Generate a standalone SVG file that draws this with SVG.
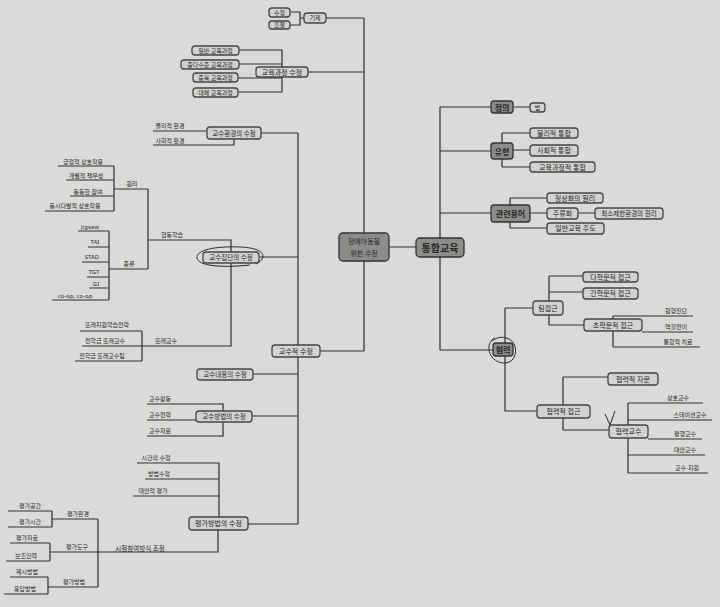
<svg xmlns="http://www.w3.org/2000/svg" width="720" height="607" viewBox="0 0 720 607">
<defs>
<style>
.bx{fill:#d2d2d0;stroke:#444;stroke-width:1.3}
.dk{fill:#8c8c8a;stroke:#333;stroke-width:1.3}
.t{font-family:"Noto Sans","Noto Sans CJK KR",sans-serif;font-size:6.5px;fill:#262626;text-anchor:middle;dominant-baseline:central}
.s{font-size:6px}
.m{font-size:7px}
.b{font-size:8px;font-weight:bold}
.ln{stroke:#2e2e2e;stroke-width:1.2;fill:none}
.pen{stroke:#2a2a2a;stroke-width:1;fill:none}
</style>
</defs>
<rect width="720" height="607" fill="#dadad8"/>
<g id="connectors" class="ln">
<path d="M364 18V351M326 18H364M308 72H364M320 351H364M389 247H416"/>
<path d="M290 12H300V25H290M300 18H304"/>
<path d="M239 50H282V92H238M239 64H282M238 78H282"/>
<path d="M298 133V524M261 133H298M259 257H298M253 374H298M252 416H298M248 524H298"/>
<path d="M153 131H207M153 145H234V139"/>
<path d="M148 240H231V346H82M148 189V269M114 189H148M109 269H148"/>
<path d="M114 166V211M58 166H114M66 180H114M70 196H114M45 211H114"/>
<path d="M109 231V300M78 231H109M88 247H109M82 262H109M87 277H109M89 288H109M52 300H109"/>
<path d="M142 331V361M80 331H142M75 361H142"/>
<path d="M147 404H223V436H147M147 420H196"/>
<path d="M137 463H219V517M145 479H219M133 496H219"/>
<path d="M50 552H218V530M98 519V587M52 519H98M48 587H98"/>
<path d="M52 511V527M8 511H52M8 527H52M50 543V561M10 543H50M6 561H50M48 577V594M10 577H48M4 594H48"/>
<path d="M440 107V350M440 107H491M513 107H530"/>
<path d="M440 151H491M502 133V167M502 133H530M502 150H530M502 167H530"/>
<path d="M440 213H491M510 198V228M510 198H547M530 213H547M510 228H547M578 213H595"/>
<path d="M440 350H493M505 308V411H537M505 308H533"/>
<path d="M549 276V325M549 276H583M549 292H583M549 325H584"/>
<path d="M613 316V347M613 316H693M642 332H693M613 347H700"/>
<path d="M563 377V430M563 377H608M563 430H609"/>
<path d="M628 403V473M628 403H703M628 420H712M648 439H702M628 455H705M628 473H708"/>
</g>
<g id="n_root_left"><rect class="dk" x="339" y="233" width="50" height="28" rx="4"/><text class="t m" x="364" y="241">장애아동을</text><text class="t m" x="364" y="253">위한 수정</text></g>
<g id="n_root_right"><rect class="dk" x="416" y="238" width="48" height="19" rx="4"/><text class="t" x="440" y="247.5" style="font-size:10px;font-weight:bold">통합교육</text></g>
<g id="n_gise"><rect class="bx" x="304" y="13" width="22" height="10" rx="3"/><text class="t s" x="315" y="18">기제</text></g>
<g id="n_sujeong"><rect class="bx" x="269" y="8" width="21" height="9" rx="3"/><text class="t s" x="279.5" y="12.5">수정</text></g>
<g id="n_jojeol"><rect class="bx" x="269" y="21" width="21" height="8" rx="3"/><text class="t s" x="279.5" y="25">조절</text></g>
<g id="n_curr"><rect class="bx" x="256" y="67" width="52" height="10" rx="3"/><text class="t m" x="282" y="72">교육과정 수정</text></g>
<g id="n_curr1"><rect class="bx" x="192" y="46" width="47" height="9" rx="3"/><text class="t s" x="215.5" y="50.5">일반 교육과정</text></g>
<g id="n_curr2"><rect class="bx" x="181" y="60" width="58" height="9" rx="3"/><text class="t s" x="210" y="64.5">중다수준 교육과정</text></g>
<g id="n_curr3"><rect class="bx" x="193" y="73" width="45" height="9" rx="3"/><text class="t s" x="215.5" y="77.5">중복 교육과정</text></g>
<g id="n_curr4"><rect class="bx" x="193" y="88" width="45" height="9" rx="3"/><text class="t s" x="215.5" y="92.5">대체 교육과정</text></g>
<g id="n_inst"><rect class="bx" x="272" y="345" width="48" height="12" rx="3"/><text class="t m" x="296" y="351">교수적 수정</text></g>
<g id="n_env"><rect class="bx" x="207" y="127" width="54" height="12" rx="3"/><text class="t" x="234" y="133">교수환경의 수정</text></g>
<g id="n_group"><rect class="bx" x="203" y="252" width="56" height="11" rx="3"/><text class="t" x="231" y="257.5">교수집단의 수정</text></g>
<g id="n_content"><rect class="bx" x="197" y="369" width="56" height="11" rx="3"/><text class="t" x="225" y="374.5">교수내용의 수정</text></g>
<g id="n_method"><rect class="bx" x="196" y="411" width="56" height="11" rx="3"/><text class="t" x="224" y="416.5">교수방법의 수정</text></g>
<g id="n_eval"><rect class="bx" x="189" y="517" width="59" height="13" rx="3"/><text class="t m" x="218.5" y="523.5">평가방법의 수정</text></g>
<g id="labels_left">
<text class="t s" x="170" y="126">물리적 환경</text><text class="t s" x="170" y="141">사회적 환경</text>
<text class="t s" x="172" y="235">협동학습</text><text class="t s" x="166" y="341">또래교수</text>
<text class="t s" x="132" y="184">원리</text><text class="t s" x="129" y="264">종류</text>
<text class="t s" x="83" y="161.5">긍정적 상호작용</text><text class="t s" x="86" y="175.5">개별적 책무성</text><text class="t s" x="88" y="191.5">동등한 참여</text><text class="t s" x="75" y="206">동시다발적 상호작용</text>
<text class="t s" x="90" y="226.5">Jigsaw</text><text class="t s" x="95" y="242">TAI</text><text class="t s" x="92" y="257">STAD</text><text class="t s" x="94" y="272">TGT</text><text class="t s" x="96" y="283.5">GI</text><text class="t s" x="75" y="296">co-op, co-op</text>
<text class="t s" x="107" y="325">또래지원학습전략</text><text class="t s" x="105" y="341">전학급 또래교수</text><text class="t s" x="102" y="356">전학급 또래교수팀</text>
<text class="t s" x="160" y="399">교수활동</text><text class="t s" x="160" y="415">교수전략</text><text class="t s" x="160" y="431">교수자료</text>
<text class="t s" x="156" y="457.5">시간의 수정</text><text class="t s" x="159" y="474">방법수정</text><text class="t s" x="153" y="490.5">대안적 평가</text>
<text class="t" x="140" y="548">시험참여방식 조정</text>
<text class="t s" x="78" y="514">평가환경</text><text class="t s" x="77" y="547">평가도구</text><text class="t s" x="74" y="582">평가방법</text>
<text class="t s" x="30" y="505.5">평가공간</text><text class="t s" x="30" y="522">평가시간</text><text class="t s" x="27" y="538">평가자료</text><text class="t s" x="26" y="556">보조인력</text><text class="t s" x="27" y="572">제시방법</text><text class="t s" x="25" y="589">응답방법</text>
</g>
<g id="n_def"><rect class="dk" x="491" y="101" width="22" height="12" rx="3"/><text class="t b" x="502" y="107">정의</text></g>
<g id="n_law"><rect class="bx" x="530" y="103" width="15" height="9" rx="3"/><text class="t s" x="537.5" y="107.5">법</text></g>
<g id="n_type"><rect class="dk" x="491" y="143" width="22" height="16" rx="3"/><text class="t b" x="502" y="151">유형</text></g>
<g id="n_type1"><rect class="bx" x="530" y="128" width="48" height="10" rx="3"/><text class="t m" x="554" y="133">물리적 통합</text></g>
<g id="n_type2"><rect class="bx" x="530" y="145" width="48" height="11" rx="3"/><text class="t m" x="554" y="150.5">사회적 통합</text></g>
<g id="n_type3"><rect class="bx" x="530" y="162" width="65" height="10" rx="3"/><text class="t m" x="562.5" y="167">교육과정적 통합</text></g>
<g id="n_terms"><rect class="dk" x="491" y="205" width="39" height="17" rx="3"/><text class="t b" x="510.5" y="213.5">관련용어</text></g>
<g id="n_term1"><rect class="bx" x="547" y="193" width="56" height="10" rx="3"/><text class="t m" x="575" y="198">정상화의 원리</text></g>
<g id="n_term2"><rect class="bx" x="547" y="208" width="31" height="11" rx="3"/><text class="t m" x="562.5" y="213.5">주류화</text></g>
<g id="n_term2a"><rect class="bx" x="595" y="208" width="68" height="11" rx="3"/><text class="t" x="629" y="213.5">최소제한환경의 원리</text></g>
<g id="n_term3"><rect class="bx" x="547" y="223" width="57" height="11" rx="3"/><text class="t m" x="575.5" y="228.5">일반교육 주도</text></g>
<g id="n_coop"><rect class="dk" x="493" y="343" width="20" height="13" rx="3"/><text class="t b" x="503" y="349.5">협력</text></g>
<g id="n_team"><rect class="bx" x="533" y="301" width="30" height="14" rx="3"/><text class="t m" x="548" y="308">팀접근</text></g>
<g id="n_team1"><rect class="bx" x="583" y="272" width="55" height="10" rx="3"/><text class="t m" x="610.5" y="277">다학문적 접근</text></g>
<g id="n_team2"><rect class="bx" x="583" y="288" width="55" height="11" rx="3"/><text class="t m" x="610.5" y="293.5">간학문적 접근</text></g>
<g id="n_team3"><rect class="bx" x="584" y="319" width="58" height="12" rx="3"/><text class="t m" x="613" y="325">초학문적 접근</text></g>
<g id="n_capp"><rect class="bx" x="537" y="405" width="53" height="13" rx="3"/><text class="t m" x="563.5" y="411.5">협력적 접근</text></g>
<g id="n_cons"><rect class="bx" x="608" y="373" width="50" height="12" rx="3"/><text class="t m" x="633" y="379">협력적 자문</text></g>
<g id="n_coteach"><rect class="bx" x="609" y="425" width="39" height="13" rx="3"/><text class="t m" x="628.5" y="431.5">협력교수</text></g>
<g id="labels_right">
<text class="t s" x="676" y="311">원형진단</text><text class="t s" x="676" y="327">역할전이</text><text class="t s" x="678" y="342">통합적 치료</text>
<text class="t s" x="678" y="398">상호교수</text><text class="t s" x="690" y="415">스테이션교수</text><text class="t s" x="685" y="433.5">평행교수</text><text class="t s" x="685" y="450">대안교수</text><text class="t s" x="687" y="467.5">교수-지원</text>
</g>
<g id="annotations" class="pen">
<path d="M256 264C268 258 266 248 240 247C215 246 196 250 197 258C198 266 222 268 250 265"/>
<path d="M495 338C485 342 487 361 503 363C518 364 519 344 509 339C503 336 497 337 492 341"/>
<path d="M605 414L610 425L615 411"/>
</g>
</svg>
